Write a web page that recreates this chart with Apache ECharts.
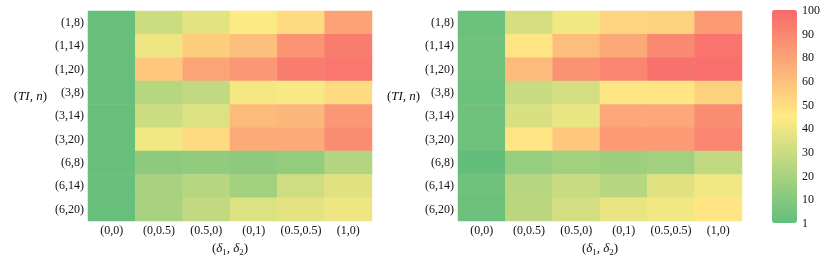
<!DOCTYPE html>
<html><head><meta charset="utf-8">
<script src="https://cdn.jsdelivr.net/npm/echarts@6/dist/echarts.min.js"></script>
<style>html,body{margin:0;padding:0;background:#fff}#c{width:831px;height:262px}</style>
</head><body><div id="c"></div>
<script>
const xCategories = ['(0,0)', '(0,0.5)', '(0.5,0)', '(0,1)', '(0.5,0.5)', '(1,0)'];
const yCategories = ['(1,8)', '(1,14)', '(1,20)', '(3,8)', '(3,14)', '(3,20)', '(6,8)', '(6,14)', '(6,20)'];
// colour-bar tick labels (evenly spaced on the bar, bottom to top)
const barTicks = [1, 10, 20, 30, 40, 50, 60, 80, 90, 100];

// rows follow yCategories, columns follow xCategories
const leftValues = [
  [2, 30, 37, 44, 51, 80],
  [2, 40, 55, 60, 85, 93],
  [2, 57, 79, 84, 93, 95],
  [2, 24, 27, 42, 43, 51],
  [2, 30, 35, 63, 65, 84],
  [2, 41, 51, 74, 74, 88],
  [2, 12, 13, 12, 14, 23],
  [2, 20, 24, 18, 31, 36],
  [2, 20, 27, 35, 37, 40]
];
const rightValues = [
  [3, 33, 41, 53, 54, 83],
  [4, 47, 62, 76, 89, 96],
  [4, 64, 86, 90, 97, 98],
  [3, 29, 32, 47, 47, 54],
  [4, 34, 39, 77, 77, 88],
  [4, 47, 57, 83, 83, 90],
  [1, 15, 18, 17, 18, 27],
  [4, 24, 29, 24, 36, 41],
  [3, 25, 32, 39, 41, 47]
];

// position of a value on the colour bar (index units between evenly spaced ticks)
function barPos(v) {
  for (let i = 0; i < barTicks.length - 1; i++) {
    if (v <= barTicks[i + 1]) return i + (v - barTicks[i]) / (barTicks[i + 1] - barTicks[i]);
  }
  return barTicks.length - 1;
}
function toData(rows) {
  const out = [];
  rows.forEach((r, yi) => r.forEach((v, xi) => out.push([xi, yi, v, barPos(v)])));
  return out;
}

const FONT = 'Liberation Serif';
const txt = {color: '#111', fontFamily: FONT, fontSize: 12};
const yName = '{a|(}{b|TI, n}{a|)}';
const xName = '{a|(}{b|δ}{s|1}{a|, }{b|δ}{s|2}{a|)}';
const nameRich = {
  a: {fontFamily: FONT, fontSize: 13, color: '#111'},
  b: {fontFamily: FONT, fontSize: 13, fontStyle: 'italic', color: '#111'},
  s: {fontFamily: FONT, fontSize: 9, color: '#111', padding: [8, 0, 0, 0]}
};

function xAx(gi) {
  return {type: 'category', gridIndex: gi, data: xCategories,
    axisLine: {show: false}, axisTick: {show: false}, splitArea: {show: false},
    axisLabel: Object.assign({margin: 4, interval: 0}, txt),
    name: xName, nameLocation: 'middle', nameGap: 15,
    nameTextStyle: {rich: nameRich}};
}
function yAx(gi, gap) {
  return {type: 'category', gridIndex: gi, data: yCategories, inverse: true,
    axisLine: {show: false}, axisTick: {show: false},
    axisLabel: Object.assign({margin: 4, interval: 0}, txt),
    name: yName, nameLocation: 'middle', nameRotate: 0, nameGap: gap,
    nameTextStyle: {rich: nameRich, padding: [0, 0, 38, 0]}};
}

const chart = echarts.init(document.getElementById('c'), null, {renderer: 'canvas'});
chart.setOption({
  animation: false,
  grid: [
    {left: 88, top: 11, width: 284, height: 213},
    {left: 458, top: 11, width: 284, height: 213},
    {left: 772, top: 11, width: 25, height: 213}
  ],
  xAxis: [xAx(0), xAx(1), {type: 'category', gridIndex: 2, data: [''], show: false}],
  yAxis: [yAx(0, 41), yAx(1, 36),
    {type: 'category', gridIndex: 2, data: barTicks.map(String), boundaryGap: false, position: 'right',
     axisLine: {show: false}, axisTick: {show: false}, splitLine: {show: false},
     axisLabel: Object.assign({margin: 5, interval: 0}, txt)}],
  visualMap: {
    type: 'continuous', min: 0, max: barTicks.length - 1, dimension: 3, seriesIndex: [0, 1],
    calculable: false, itemWidth: 25, itemHeight: 213, left: 757, top: -5, text: null,
    showLabel: false, hoverLink: false,
    inRange: {color: ['#63BE7B', '#FFEB84', '#F8696B']}
  },
  series: [
    {type: 'heatmap', xAxisIndex: 0, yAxisIndex: 0, data: toData(leftValues), itemStyle: {borderWidth: 0}},
    {type: 'heatmap', xAxisIndex: 1, yAxisIndex: 1, data: toData(rightValues), itemStyle: {borderWidth: 0}}
  ]
});
</script></body></html>
